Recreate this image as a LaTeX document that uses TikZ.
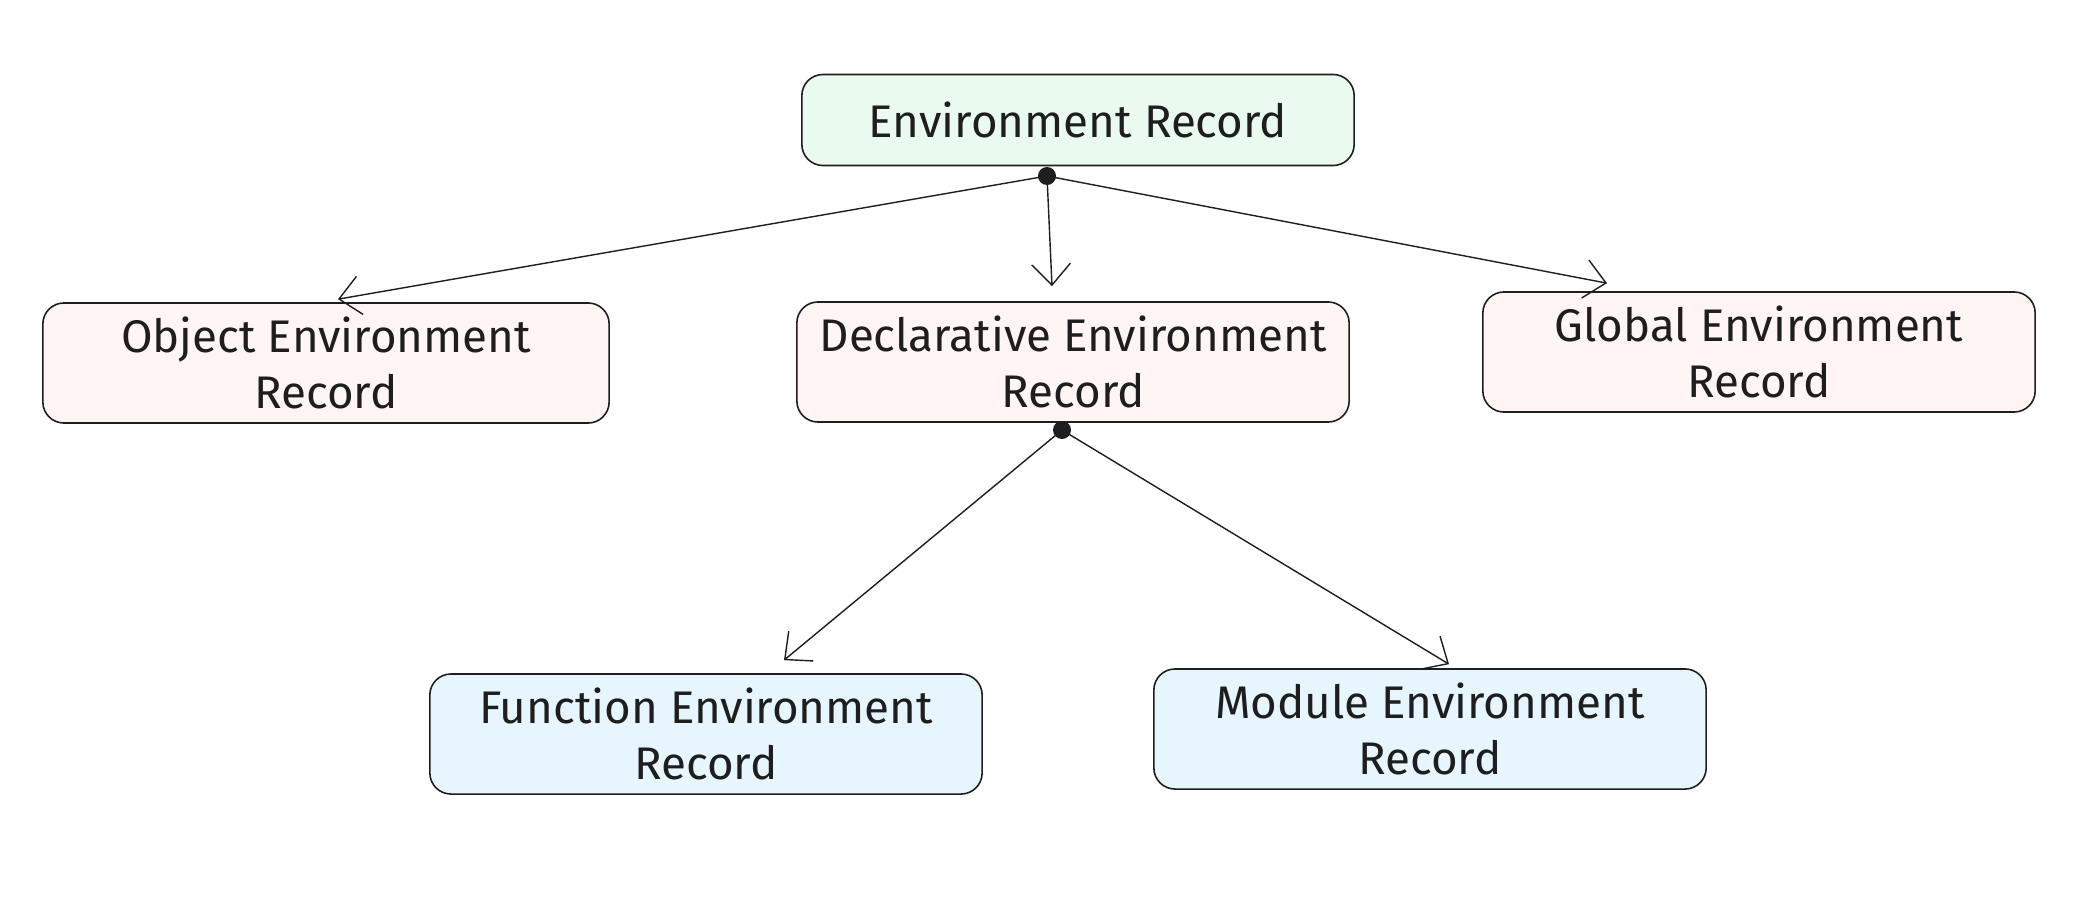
\documentclass[tikz,border=0pt]{standalone}
\usepackage{fontspec}
\setmainfont{Fira Sans}
\usetikzlibrary{arrows.meta}
\definecolor{boxline}{HTML}{1E1E1E}
\definecolor{rootfill}{HTML}{EBFAEF}
\definecolor{kindfill}{HTML}{FFF5F5}
\definecolor{subfill}{HTML}{E7F5FF}
\tikzset{
  rec/.style={draw=boxline, line width=0.45pt, rounded corners=6pt, align=center,
    minimum width=5.52cm, minimum height=1.2cm, inner sep=0pt,
    font=\fontsize{13}{16}\selectfont, text=boxline},
  link/.style={-{Straight Barb[length=6pt,width=11pt]}, line width=0.4pt, boxline},
}
\begin{document}
\begin{tikzpicture}[x=0.01cm, y=-0.01cm]
\useasboundingbox (0,0) rectangle (2094,906);
\node[rec, fill=rootfill, minimum height=0.91cm] (root) at (1078,120) {Environment Record};
\node[rec, fill=kindfill, minimum width=5.66cm] (obj) at (326,363) {Object Environment\\Record};
\node[rec, fill=kindfill] (decl) at (1073,362) {Declarative Environment\\Record};
\node[rec, fill=kindfill] (glob) at (1759,352) {Global Environment\\Record};
\node[rec, fill=subfill] (func) at (706,734) {Function Environment\\Record};
\node[rec, fill=subfill] (modl) at (1430,729) {Module Environment\\Record};
% hubs under the boxes
\coordinate (hubA) at (1047,176);
\coordinate (hubB) at (1062,430);
\coordinate (objIn) at ([shift={(12,-3)}]obj.north);
\coordinate (declIn) at ([shift={(-21,-15)}]decl.north);
\coordinate (globIn) at ([shift={(-152,-8)}]glob.north);
\coordinate (funcIn) at ([shift={(78,-13)}]func.north);
\coordinate (modlIn) at ([shift={(19,-4)}]modl.north);
\draw[link] (hubA) -- (objIn);
\draw[link] (hubA) -- (declIn);
\draw[link] (hubA) -- (globIn);
\draw[link] (hubB) -- (funcIn);
\draw[link] (hubB) -- (modlIn);
\fill[boxline] (hubA) circle(9);
\fill[boxline] (hubB) circle(9);
\end{tikzpicture}
\end{document}
